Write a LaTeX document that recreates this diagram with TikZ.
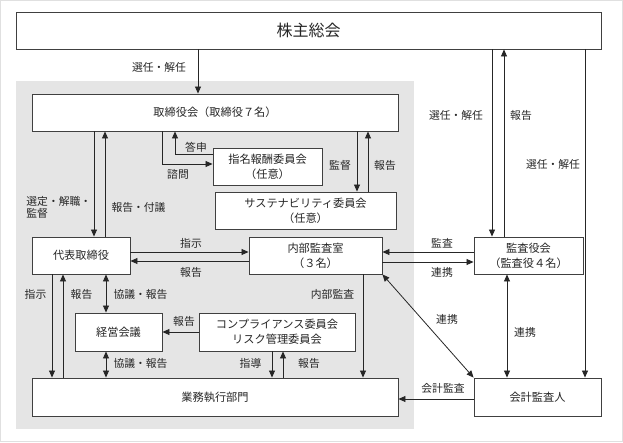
\documentclass[tikz,border=0pt]{standalone}
\usepackage{fontspec}
\setmainfont{Noto Sans CJK JP}
\usetikzlibrary{arrows.meta}

\begin{document}
\begin{tikzpicture}[x=1pt,y=-1pt,color=black!85,line width=.8pt,
  >={Triangle[length=7pt,width=6pt]},
  box/.style={draw=black!75,line width=.9pt,fill=white,inner sep=0pt,align=center,
    font=\fontsize{11.2}{15}\selectfont},
  lbl/.style={inner sep=0pt,font=\fontsize{10.8}{12}\selectfont}]
\useasboundingbox (0,0) rectangle (623,442);
\draw[black!12] (0.5,0.5) rectangle (622.5,441.5);
\fill[black!10] (16,81) rectangle (414,429);
% boxes
\node[box,minimum width=585,minimum height=37,font=\fontsize{16}{18}\selectfont] (gm) at (308.5,30.5) {株主総会};
\node[box,minimum width=366,minimum height=37] (board) at (215,112.5) {取締役会（取締役７名）};
\node[box,minimum width=109,minimum height=37] (nom) at (267.5,166.5) {指名報酬委員会\\（任意）};
\node[box,minimum width=181,minimum height=37] (sus) at (305.5,210.5) {サステナビリティ委員会\\（任意）};
\node[box,minimum width=98,minimum height=37] (rep) at (81,255.5) {代表取締役};
\node[box,minimum width=133,minimum height=37] (ia) at (315.5,255.5) {内部監査室\\（３名）};
\node[box,minimum width=109,minimum height=37] (kansa) at (528.5,255.5) {監査役会\\（監査役４名）};
\node[box,minimum width=87,minimum height=38] (keiei) at (118.5,332) {経営会議};
\node[box,minimum width=156,minimum height=38] (comp) at (277,332) {コンプライアンス委員会\\リスク管理委員会};
\node[box,minimum width=366,minimum height=38] (gyomu) at (215,397) {業務執行部門};
\node[box,minimum width=127,minimum height=38] (kaikei) at (537.5,397) {会計監査人};
% connectors
\draw[->] (198,0 |- gm.south) -- (198,0 |- board.north);
\draw[->] (94,0 |- board.south) -- (94,0 |- rep.north);
\draw[->] (105,0 |- rep.north) -- (105,0 |- board.south);
\draw[->] (162,0 |- board.south) |- (nom.west |- 0,164);
\draw[->] (nom.west |- 0,154) -| (175,0 |- board.south);
\draw[->] (357,0 |- board.south) -- (357,0 |- sus.north);
\draw[->] (368,0 |- sus.north) -- (368,0 |- board.south);
\draw[->] (492,0 |- gm.south) -- (492,0 |- kansa.north);
\draw[->] (504,0 |- kansa.north) -- (504,0 |- gm.south);
\draw[->] (585,0 |- gm.south) -- (585,0 |- kaikei.north);
\draw[->] (rep.east |- 0,252) -- (ia.west |- 0,252);
\draw[->] (ia.west |- 0,261) -- (rep.east |- 0,261);
\draw[->] (kansa.west |- 0,252) -- (ia.east |- 0,252);
\draw[->] (ia.east |- 0,262) -- (kansa.west |- 0,262);
\draw[->] (52,0 |- rep.south) -- (52,0 |- gyomu.north);
\draw[->] (63,0 |- gyomu.north) -- (63,0 |- rep.south);
\draw[<->] (106,0 |- rep.south) -- (106,0 |- keiei.north);
\draw[<->] (106,0 |- keiei.south) -- (106,0 |- gyomu.north);
\draw[->] (comp.west) -- (keiei.east);
\draw[->] (272,0 |- comp.south) -- (272,0 |- gyomu.north);
\draw[->] (283,0 |- gyomu.north) -- (283,0 |- comp.south);
\draw[->] (363,0 |- ia.south) -- (363,0 |- gyomu.north);
\draw[<->] (ia.south east) -- (kaikei.north west);
\draw[<->] (507,0 |- kansa.south) -- (507,0 |- kaikei.north);
\draw[->] (kaikei.west |- 0,399) -- (gyomu.east |- 0,399);
% labels
\node[lbl] (sennin1) at (159,67) {選任・解任};
\node[lbl,anchor=west,align=left,font=\fontsize{10.8}{11.5}\selectfont] (sentei) at (26,207.5) {選定・解職・\\監督};
\node[lbl] (fugi) at (138.5,207) {報告・付議};
\node[lbl] (toshin) at (196,147) {答申};
\node[lbl] (shimon) at (178,174) {諮問};
\node[lbl] (kantoku) at (340,165) {監督};
\node[lbl] (hokoku1) at (385,165) {報告};
\node[lbl] (sennin2) at (456,115) {選任・解任};
\node[lbl] (hokoku2) at (521,115) {報告};
\node[lbl] (sennin3) at (553,164) {選任・解任};
\node[lbl] (shiji1) at (191,243) {指示};
\node[lbl] (hokoku3) at (191,272) {報告};
\node[lbl] (kansa1) at (442,243) {監査};
\node[lbl] (renkei1) at (442,272) {連携};
\node[lbl] (shiji2) at (35.5,294) {指示};
\node[lbl] (hokoku4) at (81.5,294) {報告};
\node[lbl] (kyogi1) at (140.5,294) {協議・報告};
\node[lbl] (kyogi2) at (140.5,363) {協議・報告};
\node[lbl] (hokoku5) at (184,321) {報告};
\node[lbl] (shido) at (250.5,363) {指導};
\node[lbl] (hokoku6) at (309,363) {報告};
\node[lbl] (naibu) at (332.5,294) {内部監査};
\node[lbl] (renkei2) at (447,319) {連携};
\node[lbl] (renkei3) at (525,332) {連携};
\node[lbl] (kaikei1) at (443,388) {会計監査};
\end{tikzpicture}
\end{document}
